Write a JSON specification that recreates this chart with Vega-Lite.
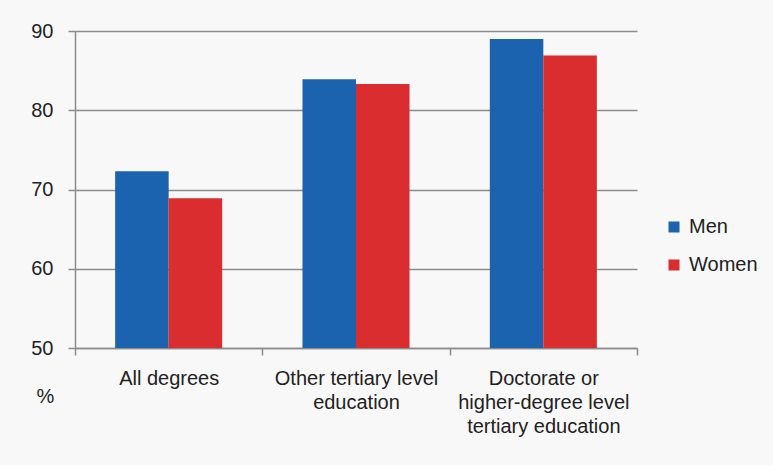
{
  "$schema": "https://vega.github.io/schema/vega-lite/v6.json",
  "width": 562,
  "height": 317,
  "autosize": {"type": "none"},
  "padding": {"left": 75, "top": 31, "right": 136, "bottom": 117},
  "background": "#f8f8f8",
  "config": {
    "view": {"stroke": null},
    "font": "Liberation Sans",
    "axis": {
      "labelFont": "Liberation Sans",
      "labelFontSize": 20,
      "labelColor": "#222222",
      "domainColor": "#8c8c8c",
      "tickColor": "#8c8c8c",
      "gridColor": "#8c8c8c",
      "domainWidth": 1.5,
      "tickWidth": 1.5,
      "gridWidth": 1.5
    }
  },
  "data": {
    "values": [
      {"degree": "All degrees", "sex": "Men", "pct": 72.3},
      {"degree": "All degrees", "sex": "Women", "pct": 68.9},
      {"degree": "Other tertiary level education", "sex": "Men", "pct": 83.9},
      {"degree": "Other tertiary level education", "sex": "Women", "pct": 83.3},
      {"degree": "Doctorate or higher-degree level tertiary education", "sex": "Men", "pct": 89.0},
      {"degree": "Doctorate or higher-degree level tertiary education", "sex": "Women", "pct": 86.9}
    ]
  },
  "mark": {"type": "bar", "clip": true},
  "encoding": {
    "x": {
      "field": "degree",
      "type": "nominal",
      "sort": null,
      "scale": {"paddingInner": 0, "paddingOuter": 0},
      "axis": {
        "title": null,
        "labelAngle": 0,
        "tickBand": "extent",
        "tickSize": 7,
        "labelPadding": 13,
        "labelLineHeight": 24,
        "labelBaseline": "top",
        "labelExpr": "datum.value == 'Other tertiary level education' ? ['Other tertiary  level', 'education'] : datum.value == 'Doctorate or higher-degree level tertiary education' ? ['Doctorate or', 'higher-degree level', 'tertiary education'] : datum.label"
      }
    },
    "xOffset": {
      "field": "sex",
      "type": "nominal",
      "scale": {"paddingOuter": 0.75, "paddingInner": 0}
    },
    "y": {
      "field": "pct",
      "type": "quantitative",
      "scale": {"domain": [50, 90], "nice": false, "zero": false},
      "axis": {
        "values": [50, 60, 70, 80, 90],
        "grid": true,
        "tickSize": 7,
        "labelPadding": 15,
        "title": "%",
        "titleAngle": 0,
        "titleFont": "Liberation Sans",
        "titleFontSize": 20,
        "titleFontWeight": "normal",
        "titleColor": "#222222",
        "titleAlign": "center",
        "titleBaseline": "middle",
        "titleX": -30,
        "titleY": 365
      }
    },
    "color": {
      "field": "sex",
      "type": "nominal",
      "scale": {"domain": ["Men", "Women"], "range": ["#1b63ae", "#d92d2f"]},
      "legend": {
        "title": null,
        "orient": "none",
        "legendX": 589,
        "legendY": 186,
        "symbolType": "square",
        "symbolSize": 121,
        "symbolStrokeWidth": 0,
        "symbolOpacity": 1,
        "labelFont": "Liberation Sans",
        "labelFontSize": 20,
        "labelColor": "#222222",
        "labelOffset": 5,
        "rowPadding": 18
      }
    }
  }
}
